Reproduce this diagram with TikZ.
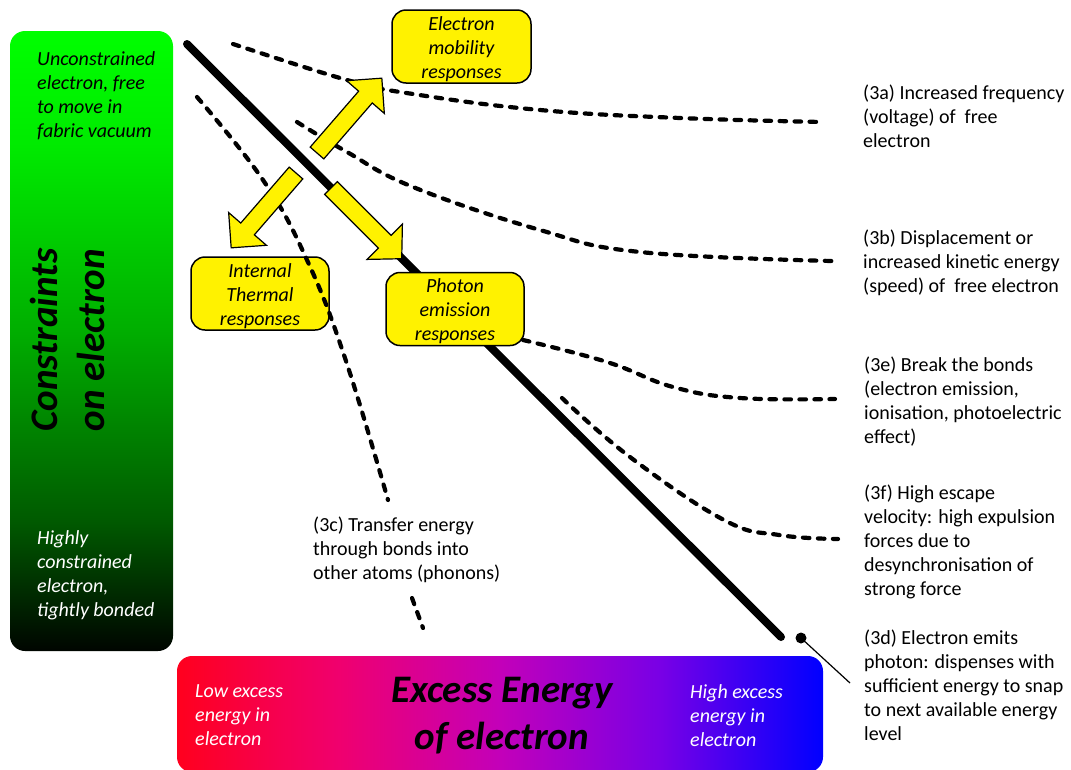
\documentclass[tikz,border=0pt]{standalone}
\usepackage{fontspec}
\setmainfont{Carlito}
\pgfdeclareverticalshading{greenbar}{100bp}{%
  color(0bp)=(rgb,255:red,0;green,5;blue,0);
  color(25bp)=(rgb,255:red,0;green,5;blue,0);
  color(35.5bp)=(rgb,255:red,0;green,90;blue,0);
  color(51bp)=(rgb,255:red,0;green,175;blue,0);
  color(66bp)=(rgb,255:red,0;green,235;blue,0);
  color(75bp)=(rgb,255:red,0;green,255;blue,0);
  color(100bp)=(rgb,255:red,0;green,255;blue,0)}
\pgfdeclarehorizontalshading{energybar}{100bp}{%
  color(0bp)=(rgb,255:red,255;green,0;blue,30);
  color(25bp)=(rgb,255:red,255;green,0;blue,30);
  color(37.5bp)=(rgb,255:red,240;green,0;blue,110);
  color(50bp)=(rgb,255:red,195;green,0;blue,185);
  color(62.5bp)=(rgb,255:red,120;green,0;blue,230);
  color(75bp)=(rgb,255:red,0;green,0;blue,255);
  color(100bp)=(rgb,255:red,0;green,0;blue,255)}
\newcommand\topstrut{\rule{0pt}{18.5pt}}
\begin{document}
\begin{tikzpicture}[x=1pt,y=-1pt,
  txt/.style={font=\fontsize{20}{24}\selectfont, align=left, anchor=north west, inner sep=0pt},
  itx/.style={txt, font=\fontsize{20}{24}\selectfont\itshape},
  ybox/.style={draw=black, line width=1.5pt, fill=yellow, rounded corners=14pt,
    align=center, inner sep=0pt, font=\fontsize{20}{24}\selectfont\itshape},
  yarrow/.style={draw=black, line width=1.2pt, fill=yellow, line join=miter},
  dotline/.style={line width=4.2pt, dash pattern=on 6.5pt off 8.5pt, line cap=round},
  big/.style={font=\fontsize{39}{47}\selectfont\bfseries\itshape, align=center, inner sep=0pt}]
\useasboundingbox (0,0) rectangle (1071,769);

% left constraint bar
\shade[rounded corners=15pt, shading=greenbar] (10,31) rectangle (173,651);
\node[itx] (unc) at (37,51) {Unconstrained\\electron, free\\to move in\\fabric vacuum};
\node[itx, text=white] (high) at (37,530) {Highly\\constrained\\electron,\\tightly bonded};
\node[big, rotate=90] (constr) at (67,340) {Constraints\\on electron};

% bottom energy bar
\shade[rounded corners=15pt, shading=energybar] (177,656) rectangle (823,772);
\node[itx, text=white] (low) at (195,684) {Low excess\\energy in\\electron};
\node[itx, text=white] (hix) at (690,684) {High excess\\energy in\\electron};
\node[big] (excess) at (502,716) {Excess Energy\\of electron};

% main thick line
\coordinate (ls) at (187,44);
\coordinate (le) at (781,637);
\draw[line width=8pt, line cap=round] (ls) -- (le);

% dashed response curves
\draw[dotline] plot[smooth, tension=0.7] coordinates {(233,44) (347,80) (413,94) (540,110) (680,118) (822,122)};
\draw[dotline] plot[smooth, tension=0.7] coordinates {(297,122) (347,152) (413,187) (540,230) (640,252) (832,261)};
\draw[dotline] plot[smooth, tension=0.7] coordinates {(523,340) (607,362) (673,387) (740,398) (835,399)};
\draw[dotline] plot[smooth, tension=0.7] coordinates {(562,398) (630,457) (724,520) (779,535) (838,539)};

% yellow response boxes
\node[ybox, minimum width=139pt, minimum height=73pt] (mob) at (461.5,46.5) {\topstrut Electron\\mobility\\responses};
\node[ybox, minimum width=138pt, minimum height=73pt] (pho) at (455,309) {\topstrut Photon\\emission\\responses};
\node[ybox, minimum width=138pt, minimum height=73pt] (the) at (260,293.5) {\topstrut Internal\\Thermal\\responses};

% phonon curve
\draw[dotline] plot[smooth, tension=0.7] coordinates {(197,97) (263,180) (307,260) (345,358) (388,500)};
\draw[dotline] (412,598) -- (423,628);

% block arrows
\begin{scope}[shift={(317,153)}, rotate=49.1]
  \draw[yarrow] (0,-9) -- (74,-9) -- (74,-25) -- (99,0) -- (74,25) -- (74,9) -- (0,9) -- cycle;
\end{scope}
\begin{scope}[shift={(296,173)}, rotate=229.1]
  \draw[yarrow] (0,-9) -- (74,-9) -- (74,-25) -- (99,0) -- (74,25) -- (74,9) -- (0,9) -- cycle;
\end{scope}
\begin{scope}[shift={(331,188)}, rotate=-45]
  \draw[yarrow] (0,-9) -- (76,-9) -- (76,-25) -- (100,0) -- (76,25) -- (76,9) -- (0,9) -- cycle;
\end{scope}

% photon emission marker
\node[circle, fill=black, inner sep=0pt, minimum size=11pt] (dot) at (801,638) {};
\coordinate (dtip) at (850,683);
\draw[line width=1.2pt] (dot.center) -- (dtip);

% labels
\node[txt] (t3a) at (863,85) {(3a) Increased frequency\\(voltage) of\ \ free\\electron};
\node[txt] (t3b) at (863,230) {(3b) Displacement or\\increased kinetic energy\\(speed) of\ \ free electron};
\node[txt] (t3e) at (864,357) {(3e) Break the bonds\\(electron emission,\\ionisation, photoelectric\\effect)};
\node[txt] (t3f) at (864,485) {(3f) High escape\\velocity: high expulsion\\forces due to\\desynchronisation of\\strong force};
\node[txt] (t3d) at (864,630) {(3d) Electron emits\\photon: dispenses with\\sufficient energy to snap\\to next available energy\\level};
\node[txt] (t3c) at (313,517) {(3c) Transfer energy\\through bonds into\\other atoms (phonons)};
\end{tikzpicture}
\end{document}
